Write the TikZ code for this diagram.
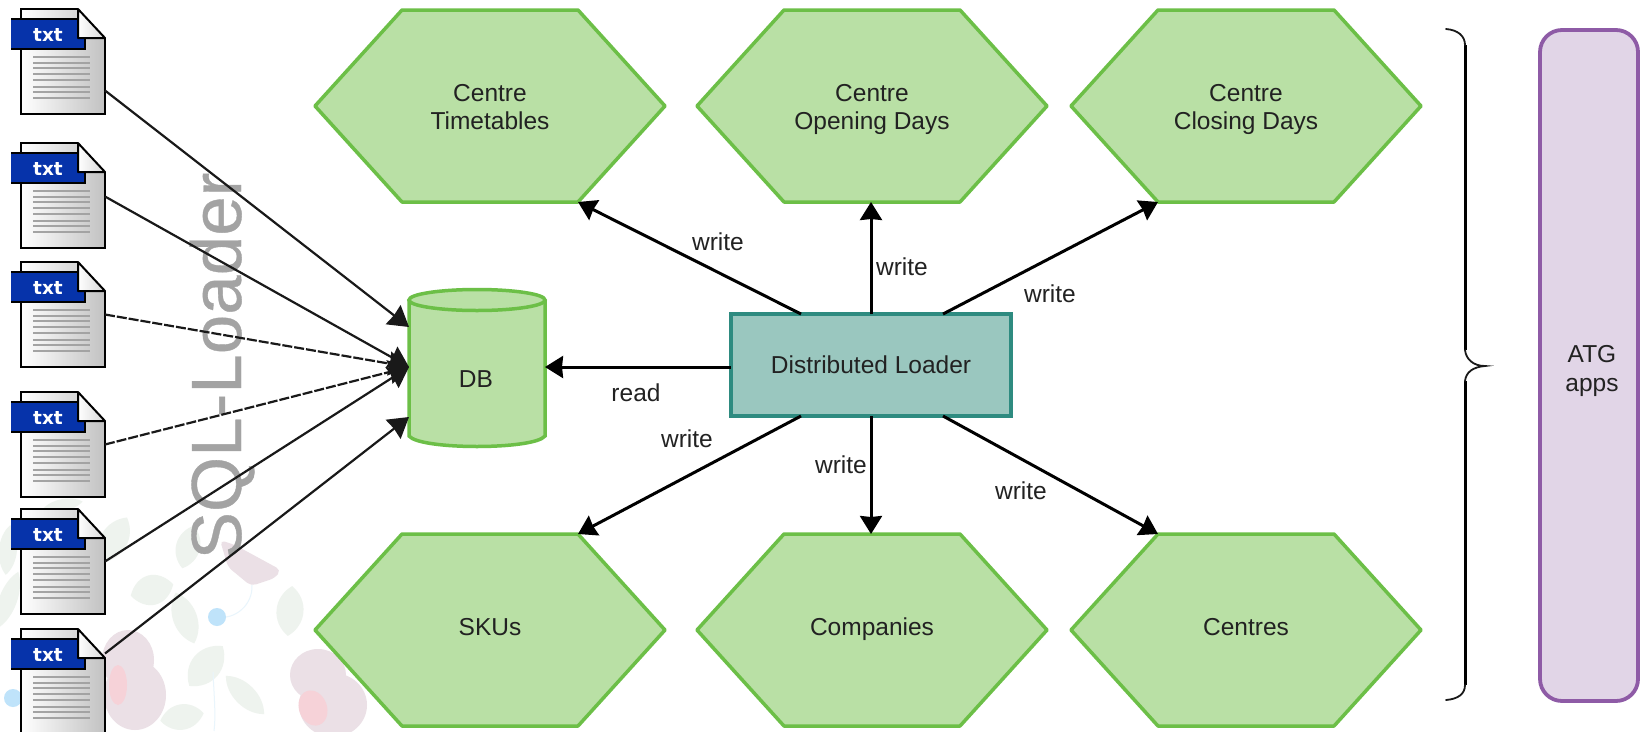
\documentclass[tikz,border=0pt]{standalone}
\usepackage{fontspec}
\setmainfont{Liberation Sans}
\newfontfamily\txtfont{DejaVu Sans}
\newfontfamily\wmfont[FakeBold=0.5]{Liberation Sans}
\usetikzlibrary{arrows.meta,calc}
\definecolor{hexfill}{HTML}{B9E0A5}
\definecolor{hexline}{HTML}{6CBF47}
\definecolor{tealfill}{HTML}{9AC7BF}
\definecolor{tealline}{HTML}{2E8B80}
\definecolor{purfill}{HTML}{E1D5E7}
\definecolor{purline}{HTML}{8E5BA6}
\definecolor{bandblue}{HTML}{0633AA}
\definecolor{leafc}{HTML}{EEF3EE}
\definecolor{rosec}{HTML}{EBE0E6}
\definecolor{rosei}{HTML}{F6D2D8}
\definecolor{dotc}{HTML}{BFE3FA}
\definecolor{stemc}{HTML}{E9F5FC}
\definecolor{inkc}{HTML}{222222}
\tikzset{
  x=1pt,y=-1pt,
  every node/.style={font=\fontsize{24.5}{28}\selectfont,text=inkc,inner sep=0pt,outer sep=0pt,align=center},
  hexshape/.style={fill=hexfill,draw=hexline,line width=3.5pt,line join=round},
  hexbox/.style={rectangle,minimum width=350pt,minimum height=192pt},
  dbshape/.style={fill=hexfill,draw=hexline,line width=3.5pt},
  dbbox/.style={rectangle,minimum width=136pt,minimum height=159pt},
  loaderbox/.style={rectangle,fill=tealfill,draw=tealline,line width=3.5pt,minimum width=280pt,minimum height=102pt},
  appbox/.style={rectangle,rounded corners=22pt,fill=purfill,draw=purline,line width=3.8pt,minimum width=98pt,minimum height=671pt},
  docbox/.style={rectangle,minimum width=84pt,minimum height=105pt},
  docline/.style={draw=black,line width=2pt},
  docrule/.style={draw=black!36,line width=2.4pt},
  feed/.style={draw=black!90,line width=2.2pt,-{Stealth[length=20pt,width=24pt,inset=1pt]}},
  feeddash/.style={feed,dash pattern=on 10pt off 2pt},
  link/.style={draw=black,line width=3pt,-{Stealth[length=18pt,width=22pt,inset=1pt]}},
  lbl/.style={},
  wm/.style={text=black!36,font=\wmfont\fontsize{71}{71}\selectfont},
  bracestem/.style={draw=black,line width=3pt},
  bracecurl/.style={draw=black!90,line width=1.8pt,line cap=round},
}
\newcommand\hexa[5]{%
  \draw[hexshape] (#2-175,#3) -- (#2-88,#3-96) -- (#2+88,#3-96) -- (#2+175,#3) -- (#2+88,#3+96) -- (#2-88,#3+96) -- cycle;
  \node[hexbox] (#1) at (#2,#3) {};
  \node (#1-text) at (#2,#3+#5) {#4};
  \coordinate (#1-tl) at (#2-88,#3-96);
  \coordinate (#1-tr) at (#2+88,#3-96);
  \coordinate (#1-bl) at (#2-88,#3+96);
  \coordinate (#1-br) at (#2+88,#3+96);
}
\newcommand\leaf[5]{%
  \fill[leafc,shift={(#1,#2)},rotate=#5] (-#3,0) .. controls (-#3/2,-#4) and (#3/2,-#4) .. (#3,0) .. controls (#3/2,#4) and (-#3/2,#4) .. (-#3,0) -- cycle;
}
\newcommand\docfile[2]{%
  \shade[left color=white,right color=black!24] (21,#2) -- (78,#2) -- (105,#2+29) -- (105,#2+105) -- (21,#2+105) -- cycle;
  \draw[docline,line join=miter] (78,#2) -- (21,#2) -- (21,#2+105) -- (105,#2+105) -- (105,#2+29);
  \foreach \d in {48,54,59,65,71,78,83,89} \draw[docrule] (33,#2+\d) -- (90,#2+\d);
  \fill[bandblue] (11,#2+10) rectangle (85,#2+40);
  \draw[docline] (11,#2+10) -- (78,#2+10);
  \draw[docline] (11,#2+40) -- (85,#2+40) -- (85,#2+29);
  \shade[left color=white,right color=black!16] (78,#2) -- (105,#2+29) -- (78,#2+29) -- cycle;
  \draw[docline,line join=round] (78,#2) -- (105,#2+29) -- (78,#2+29) -- cycle;
  \node[text=white,font=\txtfont\bfseries\fontsize{18.5}{19}\selectfont] at (48,#2+26) {txt};
  \node[docbox] (#1) at (63,#2+52.5) {};
}
\begin{document}
\begin{tikzpicture}
\clip (0,0) rectangle (1640,731);
\fill[white] (0,0) rectangle (1640,731);
% faint floral background
\leaf{114}{540}{26}{18}{60}
\leaf{188}{547}{22}{16}{75}
\leaf{152}{590}{22}{20}{15}
\leaf{185}{618}{27}{16}{-70}
\leaf{290}{611}{25}{18}{85}
\leaf{206}{666}{26}{20}{50}
\leaf{245}{695}{27}{14}{-45}
\leaf{182}{717}{22}{17}{10}
\leaf{63}{505}{20}{8}{10}
\leaf{8}{550}{25}{12}{85}
\leaf{8}{600}{30}{12}{70}
\draw[stemc,line width=1pt] (217,617) .. controls (235,620) and (253,605) .. (252,585);
\draw[stemc,line width=1pt] (213,672) .. controls (214,695) and (216,715) .. (214,731);
\fill[rosec,rounded corners=5pt] (220,540) -- (235,545) -- (281,570) -- (275,578) -- (251,586) -- (228,567) -- cycle;
\fill[rosec] (128,660) ellipse [x radius=26pt,y radius=30pt];
\fill[rosec] (135,695) ellipse [x radius=31pt,y radius=35pt];
\fill[rosei] (118,685) ellipse [x radius=9pt,y radius=20pt];
\fill[rosec] (318,675) ellipse [x radius=28pt,y radius=26pt];
\fill[rosec] (333,705) ellipse [x radius=34pt,y radius=32pt];
\fill[rosei] (313,708) ellipse [x radius=14pt,y radius=18pt,rotate=20];
\fill[dotc] (217,617) circle [radius=9pt];
\fill[dotc] (13,698) circle [radius=9pt];
% SQL-Loader watermark
\node[wm,rotate=90] (sql) at (222,366) {SQL-Loader};
% files
\docfile{doca}{9}
\docfile{docb}{143}
\docfile{docc}{262}
\docfile{docd}{392}
\docfile{doce}{509}
\docfile{docf}{629}
% db
\draw[dbshape] (409,300) -- (409,436) .. controls (420,450) and (534,450) .. (545,436) -- (545,300);
\draw[dbshape] (477,300) ellipse [x radius=68pt,y radius=10.5pt];
\node[dbbox] (db) at (477,367) {};
\node (dbtext) at (476,379) {DB};
% hexagons
\hexa{ht}{490}{106}{Centre\strut\\Timetables\strut}{4}
\hexa{ho}{872}{106}{Centre\strut\\Opening Days\strut}{4}
\hexa{hc}{1246}{106}{Centre\strut\\Closing Days\strut}{4}
\hexa{hs}{490}{630}{SKUs\strut}{0}
\hexa{hm}{872}{630}{Companies\strut}{0}
\hexa{hn}{1246}{630}{Centres\strut}{0}
% loader
\node[loaderbox] (loader) at (871,365) {Distributed Loader};
\coordinate (ltl) at ($(loader.north west)+(70,0)$);
\coordinate (ltr) at ($(loader.north east)+(-68,0)$);
\coordinate (lbl) at ($(loader.south west)+(70,0)$);
\coordinate (lbr) at ($(loader.south east)+(-68,0)$);
% app box
\node[appbox] (atg) at (1589,365.5) {};
\node[font=\fontsize{24.5}{29}\selectfont] (atgtext) at (1592,371) {ATG\strut\\apps\strut};
% connectors
\path[feed] ($(doca.east)+(0,29)$) -- ($(db.west)+(0,-40)$);
\path[feed] ($(docb.east)+(0,1)$) -- (db.west);
\path[feeddash] (docc.east) -- (db.west);
\path[feeddash] (docd.east) -- (db.west);
\path[feed] (doce.east) -- (db.west);
\path[feed] ($(docf.east)+(0,-28)$) -- ($(db.west)+(0,50)$);
\path[link] ($(loader.west)+(0,2)$) -- (db.east);
\path[link] (ltl) -- (ht-br);
\path[link] (loader.north) -- (loader.north |- ho.south);
\path[link] (ltr) -- (hc-bl);
\path[link] (lbl) -- (hs-tr);
\path[link] (loader.south) -- (loader.south |- hm.north);
\path[link] (lbr) -- (hn-tl);
% labels
\node[lbl] (w1) at (718,242) {write};
\node[lbl] (w2) at (902,267) {write};
\node[lbl] (w3) at (1050,294) {write};
\node[lbl] (r1) at (636,393) {read};
\node[lbl] (w4) at (687,439) {write};
\node[lbl] (w5) at (841,465) {write};
\node[lbl] (w6) at (1021,491) {write};
% brace
\draw[bracestem] (1465,45) -- (1465,350);
\draw[bracestem] (1465,381) -- (1465,685);
\draw[bracecurl] (1446,29) .. controls (1458,30) and (1465,36) .. (1465,45);
\draw[bracecurl] (1465,350) .. controls (1466,359) and (1473,366) .. (1485,366) .. controls (1473,367) and (1466,372) .. (1465,381);
\draw[bracecurl] (1465,685) .. controls (1465,694) and (1458,699) .. (1446,700);
\end{tikzpicture}
\end{document}
